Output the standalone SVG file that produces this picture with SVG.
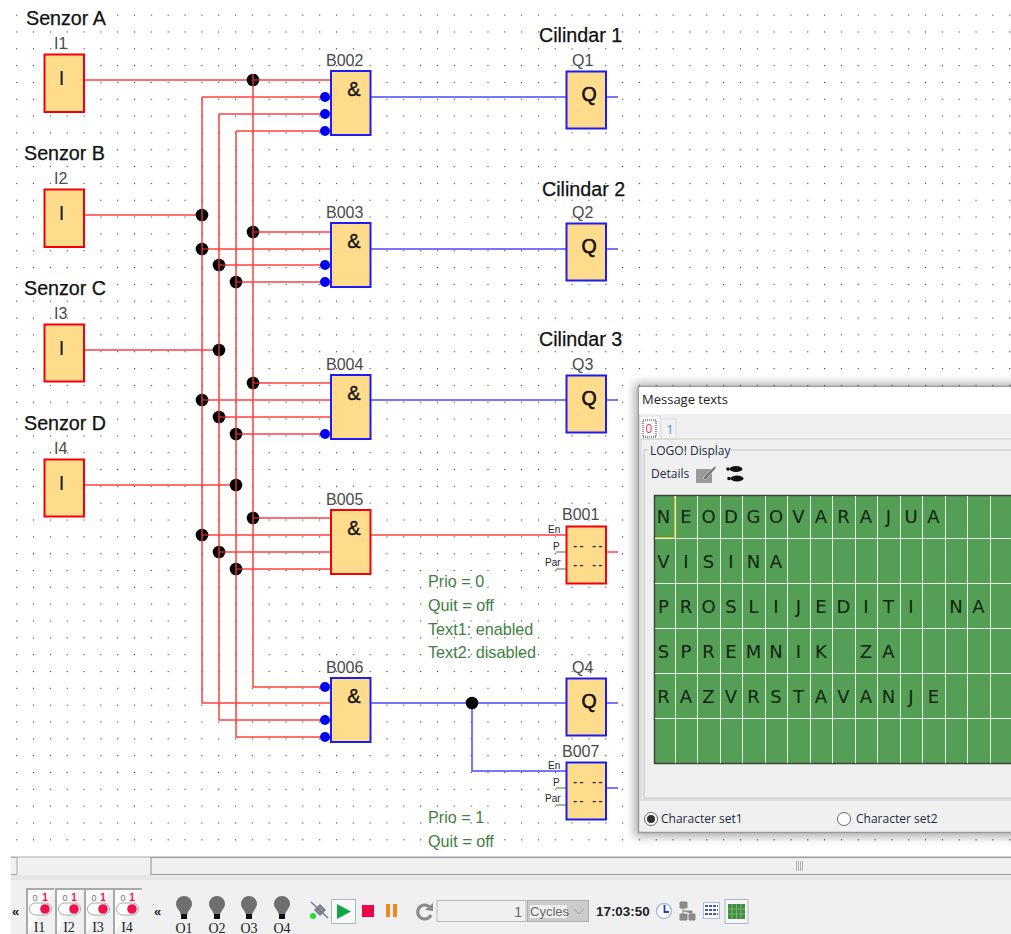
<svg xmlns="http://www.w3.org/2000/svg" width="1011" height="934" viewBox="0 0 1011 934">
<style>
text{font-family:"Liberation Sans",Arial,sans-serif}
.wr{fill:none;stroke:#ff4040;stroke-width:1.5}
.wb{fill:none;stroke:#4a4aff;stroke-width:1.5}
.wg{fill:none;stroke:#6fb36f;stroke-width:1.5}
.j{fill:#000}
.n{fill:#0000f0}
.br{fill:#ffdc8c;stroke:#f5000a;stroke-width:2}
.bb{fill:#ffdc8c;stroke:#1c1cf0;stroke-width:2}
.h{font-size:19.7px;fill:#111;stroke:#111;stroke-width:.25}
.l{font-size:16px;fill:#4a4a4a}
.amp{font-size:20px;fill:#111;stroke:#111;stroke-width:.35;text-anchor:middle}
.q{font-size:19.5px;fill:#111;stroke:#111;stroke-width:.6;text-anchor:middle}
.i{font-size:20px;fill:#111;text-anchor:middle}
.s{font-size:10px;fill:#222}
.d{font-size:10.5px;font-weight:bold;fill:#222;font-family:"Liberation Mono",monospace}
.t{font-size:16.2px;fill:#3f7f3f}
.lcd{font-size:18px;fill:#10240f;text-anchor:middle;font-family:"DejaVu Sans",sans-serif}
.u{font-size:12px;fill:#1c2a44;font-family:"Open Sans",sans-serif}
.sw{font-size:14px;fill:#222;text-anchor:middle;font-family:"Liberation Serif",serif}
.bl{font-size:14px;fill:#222;text-anchor:middle;font-family:"Liberation Serif",serif}
.bulb{fill:#6f6f6f}
.tg{fill:#fff;stroke:#a8a8a8;stroke-width:1}
.box{fill:#fbfbfb;stroke:#a9a9a9;stroke-width:2}
</style>
<defs>
<pattern id="dots" patternUnits="userSpaceOnUse" x="16.2" y="14.6" width="16.83" height="16.83"><rect width="1.1" height="1.1" fill="#333"/></pattern>
<filter id="sh" x="-5%" y="-5%" width="110%" height="110%"><feGaussianBlur stdDeviation="5"/></filter>
</defs>
<rect width="1011" height="934" fill="#fff"/>
<rect x="14" y="13" width="997" height="830" fill="url(#dots)"/>

<g id="connectors">
<g class="wr">
<path class="wr" d="M84 80H331M253 80V687H331"/>
<path class="wr" d="M84 215H202M202 97H331M202 97V703H331"/>
<path class="wr" d="M84 350H219M219 114H331M219 114V720H331"/>
<path class="wr" d="M84 485H236M236 131H331M236 131V737H331"/>
<path class="wr" d="M253 232H331M202 249H331M219 265H331M236 282H331"/>
<path class="wr" d="M253 383H331M202 400H331M219 417H331M236 434H331"/>
<path class="wr" d="M253 518H331M202 535H331M219 552H331M236 569H331"/>
<path class="wr" d="M370 535H566M606 552H618"/>
</g>
<path class="wb" d="M370 97H566M606 97H618M370 249H566M606 249H618M370 400H566M606 400H618"/>
<path class="wb" d="M370 703H566M606 703H618M472 703V771H566M606 788H618"/>
<path class="wg" d="M556 552H566M556 569H566M556 788H566M556 805H566"/>
<g class="j">
<circle cx="253" cy="80" r="6.300"/><circle cx="202" cy="215" r="6.300"/><circle cx="219" cy="350" r="6.300"/><circle cx="236" cy="485" r="6.300"/>
<circle cx="253" cy="232" r="6.300"/><circle cx="202" cy="249" r="6.300"/><circle cx="219" cy="265" r="6.300"/><circle cx="236" cy="282" r="6.300"/>
<circle cx="253" cy="383" r="6.300"/><circle cx="202" cy="400" r="6.300"/><circle cx="219" cy="417" r="6.300"/><circle cx="236" cy="434" r="6.300"/>
<circle cx="253" cy="518" r="6.300"/><circle cx="202" cy="535" r="6.300"/><circle cx="219" cy="552" r="6.300"/><circle cx="236" cy="569" r="6.300"/>
<circle cx="472" cy="703" r="6.300"/>
</g>
<g stroke="#ff4040" stroke-width="1.2">
<path d="M253 74V86M253 80H259M202 209V221M219 344V356M236 479V491M253 226V238M253 232H259M202 243V255M202 249H208M219 259V271M219 265H225M236 276V288M236 282H242M253 377V389M253 383H259M202 394V406M202 400H208M219 411V423M219 417H225M236 428V440M236 434H242M253 512V524M253 518H259M202 529V541M202 535H208M219 546V558M219 552H225M236 563V575M236 569H242"/>
</g>
<g class="n">
<circle cx="325" cy="97" r="5"/><circle cx="325" cy="114" r="5"/><circle cx="325" cy="131" r="5"/>
<circle cx="325" cy="265" r="5"/><circle cx="325" cy="282" r="5"/>
<circle cx="325" cy="434" r="5"/>
<circle cx="325" cy="687" r="5"/><circle cx="325" cy="720" r="5"/><circle cx="325" cy="737" r="5"/>
</g>
</g>

<text class="h" x="26" y="25">Senzor A</text>
<text class="h" x="24" y="160">Senzor B</text>
<text class="h" x="24" y="295">Senzor C</text>
<text class="h" x="24" y="430">Senzor D</text>
<text class="h" x="539" y="42">Cilindar 1</text>
<text class="h" x="542" y="196">Cilindar 2</text>
<text class="h" x="539" y="346">Cilindar 3</text>

<g id="I1"><rect class="br" x="44.500" y="54.500" width="39.500" height="57.500"/><text class="i" x="61.500" y="85">I</text><text class="l" x="54" y="49">I1</text></g>
<g id="I2"><rect class="br" x="44.500" y="189.500" width="39.500" height="57.500"/><text class="i" x="61.500" y="220">I</text><text class="l" x="54" y="184">I2</text></g>
<g id="I3"><rect class="br" x="44.500" y="324.500" width="39.500" height="57"/><text class="i" x="61.500" y="355">I</text><text class="l" x="54" y="319">I3</text></g>
<g id="I4"><rect class="br" x="44.500" y="459.500" width="39.500" height="57"/><text class="i" x="61.500" y="490">I</text><text class="l" x="54" y="454">I4</text></g>

<g id="B002"><rect class="bb" x="331" y="71" width="39.500" height="64"/><text class="amp" x="354" y="96">&amp;</text><text class="l" x="326" y="66">B002</text></g>
<g id="B003"><rect class="bb" x="331" y="223" width="39.500" height="64"/><text class="amp" x="354" y="248">&amp;</text><text class="l" x="326" y="218">B003</text></g>
<g id="B004"><rect class="bb" x="331" y="375" width="39.500" height="64"/><text class="amp" x="354" y="400">&amp;</text><text class="l" x="326" y="370">B004</text></g>
<g id="B005"><rect class="br" x="331" y="510" width="39.500" height="64"/><text class="amp" x="354" y="535">&amp;</text><text class="l" x="326" y="505">B005</text></g>
<g id="B006"><rect class="bb" x="331" y="678" width="39.500" height="64"/><text class="amp" x="354" y="703">&amp;</text><text class="l" x="326" y="673">B006</text></g>

<g id="Q1"><rect class="bb" x="566.500" y="71.500" width="39.500" height="57"/><text class="q" x="589" y="101">Q</text><text class="l" x="572" y="66">Q1</text></g>
<g id="Q2"><rect class="bb" x="566.500" y="223.500" width="39.500" height="57"/><text class="q" x="589" y="253">Q</text><text class="l" x="572" y="218">Q2</text></g>
<g id="Q3"><rect class="bb" x="566.500" y="375.500" width="39.500" height="57"/><text class="q" x="589" y="405">Q</text><text class="l" x="572" y="370">Q3</text></g>
<g id="Q4"><rect class="bb" x="566.500" y="678.500" width="39.500" height="57"/><text class="q" x="589" y="708">Q</text><text class="l" x="572" y="673">Q4</text></g>

<g id="B001"><rect class="br" x="566.500" y="526.500" width="39.500" height="57"/><text class="d" x="572" y="549">-- --</text><text class="d" x="572" y="568">-- --</text><text class="s" x="548" y="533">En</text><text class="s" x="553" y="550">P</text><text class="s" x="545" y="566">Par</text><text class="l" x="562" y="520">B001</text></g>
<g id="B007"><rect class="bb" x="566.500" y="762.500" width="39.500" height="57"/><text class="d" x="572" y="785">-- --</text><text class="d" x="572" y="804">-- --</text><text class="s" x="548" y="769">En</text><text class="s" x="553" y="786">P</text><text class="s" x="545" y="802">Par</text><text class="l" x="562" y="757">B007</text></g>

<text class="t" x="428" y="587">Prio = 0</text>
<text class="t" x="428" y="611">Quit = off</text>
<text class="t" x="428" y="635">Text1: enabled</text>
<text class="t" x="428" y="658">Text2: disabled</text>
<text class="t" x="428" y="823">Prio = 1</text>
<text class="t" x="428" y="847">Quit = off</text>

<g id="dialog">
<rect x="634" y="383" width="400" height="454" fill="#000" opacity=".3" filter="url(#sh)"/>
<rect x="638.500" y="386.500" width="380" height="446" fill="#f0f0f0" stroke="#9a9a9a" stroke-width="1.500"/>
<rect x="639" y="387" width="372" height="27" fill="#fff"/>
<text x="642" y="404" font-size="13" style="font-family:'Open Sans',sans-serif;fill:#222">Message texts</text>
<rect x="640" y="416" width="20" height="23" fill="#fff" stroke="#dcdcdc"/>
<rect x="643" y="420" width="13" height="17" fill="none" stroke="#222" stroke-dasharray="1 1"/>
<rect x="661" y="419" width="15" height="20" fill="#f2f2f2" stroke="#dcdcdc"/>
<text x="649" y="433" font-size="12" text-anchor="middle" style="font-family:'Open Sans',sans-serif;fill:#f0305a">0</text>
<text x="670" y="434" font-size="12" text-anchor="middle" style="font-family:'Open Sans',sans-serif;fill:#3a86d8">1</text>
<path d="M641 439H1011M641 439V800H1011" fill="none" stroke="#d8d8d8" stroke-width="1.500"/>
<path d="M648 450H644V798H1011M731 450H1011" fill="none" stroke="#c0c0c0"/>
<text class="u" x="650" y="455">LOGO! Display</text>
<text class="u" x="651" y="478">Details</text>
<path d="M696 469H712V483H696Z" fill="#9a9a9a"/><path d="M703 478L715 466L716 468L705 480Z" fill="#6f6f6f" stroke="#f0f0f0" stroke-width=".5"/>
<g fill="#111"><ellipse cx="736" cy="469" rx="6.500" ry="3"/><ellipse cx="737" cy="478.500" rx="6.500" ry="3"/><circle cx="728" cy="469" r="1.800"/><circle cx="729" cy="478.500" r="1.800"/></g>
<rect x="654" y="495" width="357" height="268.500" fill="#559e55"/>
<path d="M654 495.500H1011M654.500 495V764M654 763.500H1011" fill="none" stroke="#3c463c" stroke-width="1.500"/>
<path d="M675.500 496V763M697.500 496V763M720.500 496V763M742.500 496V763M765.500 496V763M787.500 496V763M810.500 496V763M832.500 496V763M855.500 496V763M877.500 496V763M900.500 496V763M922.500 496V763M945.500 496V763M967.500 496V763M990.500 496V763M655 538.500H1011M655 583.500H1011M655 628.500H1011M655 673.500H1011M655 718.500H1011" fill="none" stroke="#e6efe6" stroke-width="1"/>
<path d="M655 537.500H674.500V496" fill="none" stroke="#d3b820"/>
<text class="lcd" x="663.500 686 708.500 731 753.500 776 798.500 821 843.500 866 888.500 911 933.500" y="523">NEODGOVARAJUA</text>
<text class="lcd" x="663.500 686 708.500 731 753.500 776" y="568">VISINA</text>
<text class="lcd" x="663.500 686 708.500 731 753.500 776 798.500 821 843.500 866 888.500 911 933.500 956 978.500" y="613">PROSLIJEDITI NA</text>
<text class="lcd" x="663.500 686 708.500 731 753.500 776 798.500 821 843.500 866 888.500" y="658">SPREMNIK ZA</text>
<text class="lcd" x="663.500 686 708.500 731 753.500 776 798.500 821 843.500 866 888.500 911 933.500" y="703">RAZVRSTAVANJE</text>
<circle cx="651" cy="819" r="6.500" fill="#fff" stroke="#666"/><circle cx="651" cy="819" r="4" fill="#333"/>
<text class="u" x="661" y="823">Character set1</text>
<circle cx="844" cy="819" r="6.500" fill="#fff" stroke="#666"/>
<text class="u" x="856" y="823">Character set2</text>
</g>

<g id="scrollbar">
<rect x="11" y="857" width="1000" height="77" fill="#f0f0f0"/>
<path d="M11 857H1011" stroke="#a8a8a8"/>
<path d="M11 857.500H17V874.500H11" fill="none" stroke="#a8a8a8"/>
<rect x="151" y="857.500" width="861" height="17" fill="#f0f0f0" stroke="#a0a0a0" stroke-width="1.200"/>
<path d="M796.500 861V871M798.500 861V871M800.500 861V871M802.500 861V871" stroke="#b0b0b0"/>
<rect x="11" y="875" width="1000" height="5" fill="#e6e6e6"/>
</g>

<g id="toolbar">
<text x="12" y="916" font-size="13" font-weight="bold" fill="#222">«</text>
<g id="S1"><path class="box" d="M27 934V889H54"/><text x="35" y="901" font-size="9" fill="#777" text-anchor="middle">0</text><text x="45" y="901" font-size="10" font-weight="bold" fill="#f0104a" text-anchor="middle">1</text><rect class="tg" x="29.500" y="903" width="22" height="12" rx="6"/><circle cx="45" cy="909" r="4.800" fill="#f0104a"/><text class="sw" x="39.500" y="932">I1</text></g>
<g id="S2"><path class="box" d="M56 934V889H84"/><text x="65" y="901" font-size="9" fill="#777" text-anchor="middle">0</text><text x="74" y="901" font-size="10" font-weight="bold" fill="#f0104a" text-anchor="middle">1</text><rect class="tg" x="58.500" y="903" width="22" height="12" rx="6"/><circle cx="74" cy="909" r="4.800" fill="#f0104a"/><text class="sw" x="69" y="932">I2</text></g>
<g id="S3"><path class="box" d="M85 934V889H113"/><text x="94" y="901" font-size="9" fill="#777" text-anchor="middle">0</text><text x="103" y="901" font-size="10" font-weight="bold" fill="#f0104a" text-anchor="middle">1</text><rect class="tg" x="87.500" y="903" width="22" height="12" rx="6"/><circle cx="103" cy="909" r="4.800" fill="#f0104a"/><text class="sw" x="98" y="932">I3</text></g>
<g id="S4"><path class="box" d="M114 934V889H142"/><text x="123" y="901" font-size="9" fill="#777" text-anchor="middle">0</text><text x="132" y="901" font-size="10" font-weight="bold" fill="#f0104a" text-anchor="middle">1</text><rect class="tg" x="116.500" y="903" width="22" height="12" rx="6"/><circle cx="132" cy="909" r="4.800" fill="#f0104a"/><text class="sw" x="127" y="932">I4</text></g>
<text x="154" y="916" font-size="13" font-weight="bold" fill="#222">«</text>
<g id="L1"><path class="bulb" d="M176 904a8 8 0 0 1 16 0c0 4-4 6-5 11h-6c-1-5-5-7-5-11Z"/><rect x="181" y="914" width="6" height="5" fill="#111"/><text class="bl" x="184" y="933">O1</text></g>
<g id="L2"><path class="bulb" d="M209 904a8 8 0 0 1 16 0c0 4-4 6-5 11h-6c-1-5-5-7-5-11Z"/><rect x="214" y="914" width="6" height="5" fill="#111"/><text class="bl" x="217" y="933">O2</text></g>
<g id="L3"><path class="bulb" d="M241 904a8 8 0 0 1 16 0c0 4-4 6-5 11h-6c-1-5-5-7-5-11Z"/><rect x="246" y="914" width="6" height="5" fill="#111"/><text class="bl" x="249" y="933">O3</text></g>
<g id="L4"><path class="bulb" d="M274 904a8 8 0 0 1 16 0c0 4-4 6-5 11h-6c-1-5-5-7-5-11Z"/><rect x="279" y="914" width="6" height="5" fill="#111"/><text class="bl" x="282" y="933">O4</text></g>
<path d="M311 902L328 918M315 910L320 905L325 910L320 915Z" fill="#8a8a9a" stroke="#7a7a8a" stroke-width="1.500"/><circle cx="313" cy="916" r="3" fill="#22dd33"/>
<rect x="331.500" y="899.500" width="24" height="24" fill="#fafafa" stroke="#a9b9c9"/>
<path d="M337 904L351 911.500L337 919Z" fill="#16a64a"/>
<rect x="362" y="905" width="12" height="12" fill="#f0004a"/>
<path d="M386 904h4v13h-4ZM393 904h4v13h-4Z" fill="#f08a20"/>
<path d="M431 909A7 7 0 1 0 431 915" fill="none" stroke="#8a8a8a" stroke-width="3"/><path d="M425 910L433 903V911Z" fill="#8a8a8a"/>
<rect x="437" y="900.500" width="89" height="21" fill="#f0f0f0" stroke="#b8b8b8"/>
<text x="522" y="917" font-size="14" fill="#666" text-anchor="end">1</text>
<rect x="527.500" y="900.500" width="61" height="21" fill="#cbcbcb" stroke="#b0b0b0"/>
<rect x="530" y="905" width="37" height="13" fill="#f0f0f0"/>
<text x="530" y="916" font-size="13" fill="#666">Cycles</text>
<path d="M574 909L579 914L584 909" fill="none" stroke="#999"/>
<text x="596" y="916" font-size="13.400" font-weight="bold" fill="#222">17:03:50</text>
<circle cx="664" cy="911" r="7.500" fill="#fff" stroke="#a9bce0" stroke-width="1.500"/><path d="M664.500 905V912H669" fill="none" stroke="#1c3cd0" stroke-width="1.800"/>
<path d="M680 902h7v6h-7ZM680 914h7v6h-7ZM689 914h6v6h-6ZM683 908V914M683 911H692V914" fill="#8a8a8a" stroke="#8a8a8a"/>
<rect x="703.500" y="902.500" width="16" height="16" fill="#fff" stroke="#a9bce0"/>
<path d="M705 906H718M705 910H718M705 914H718" stroke="#3c50d8" stroke-width="2" stroke-dasharray="3 1"/>
<rect x="725" y="899.500" width="23" height="24" fill="#f5f5f5" stroke="#a9b9c9"/>
<rect x="728" y="904" width="17" height="15" fill="#3f8f3f"/>
<path d="M728 909H745M728 914H745M732 904V919M736.500 904V919M741 904V919" stroke="#88b888" stroke-width=".8"/>
</g>
</svg>
